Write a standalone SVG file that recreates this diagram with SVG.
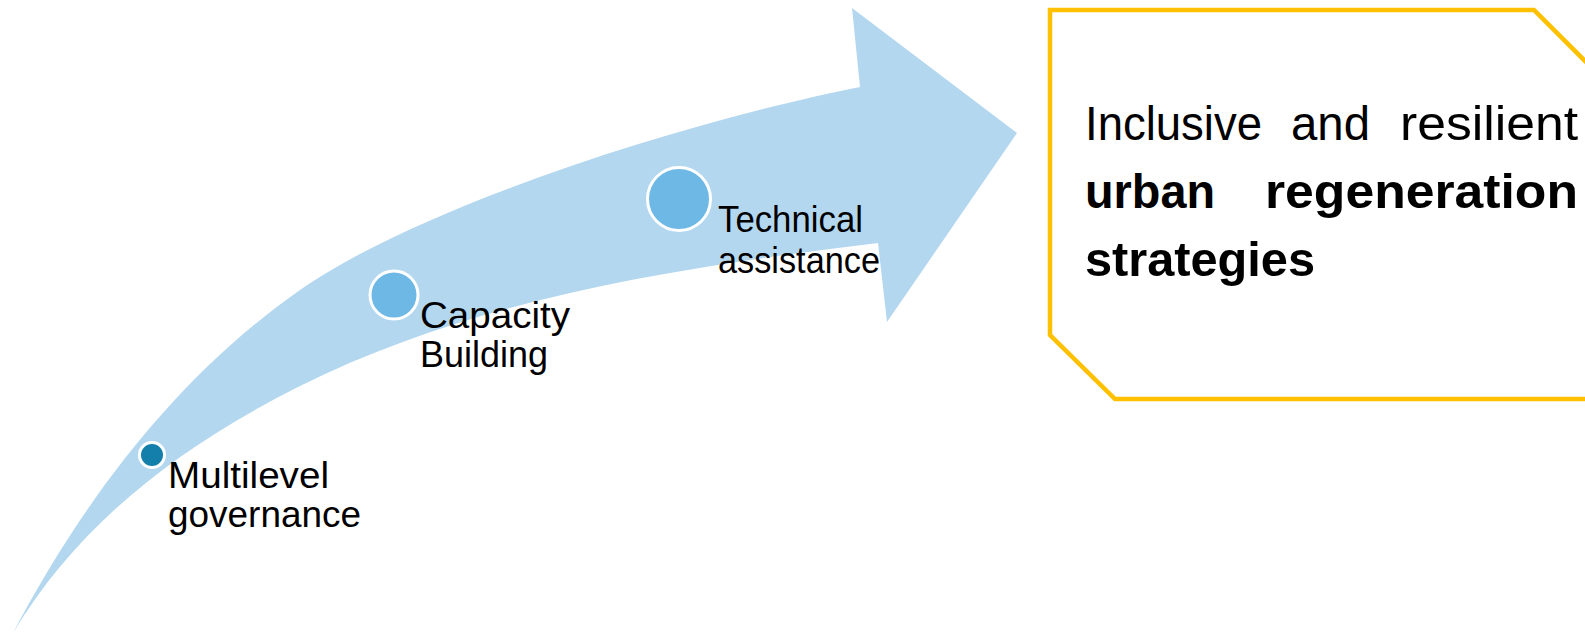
<svg xmlns="http://www.w3.org/2000/svg" width="1585" height="634" viewBox="0 0 1585 634">
<style>
.lbl{font-family:"Liberation Sans",Arial,sans-serif;font-size:36px;fill:#000}
.dot{stroke:#fff;stroke-width:3}
.big{font-family:"Liberation Sans",Arial,sans-serif;font-size:48px;fill:#000}
.bold{font-weight:bold}
</style>
<rect width="1585" height="634" fill="#fff"/>
<g id="connectors">
<path id="arrow" fill="#B4D7F0" d="M13,633 C83,500 177,376 300,290 C423,204 693,120 860,87 L852,8 L1017,133 L887,322 L878,243 C682,267 477,297.5 300,386 C175,449 78,525 13,633 Z"/>
</g>
<g id="node-multilevel">
<circle class="dot" cx="152" cy="455" r="12.5" fill="#137FAA"/>
<text class="lbl" x="168" y="488" textLength="161" lengthAdjust="spacingAndGlyphs">Multilevel</text>
<text class="lbl" x="168" y="527" textLength="193" lengthAdjust="spacingAndGlyphs">governance</text>
</g>
<g id="node-capacity">
<circle class="dot" cx="394" cy="295" r="24" fill="#6EB8E6"/>
<text class="lbl" x="420" y="328" textLength="150" lengthAdjust="spacingAndGlyphs">Capacity</text>
<text class="lbl" x="420" y="367" textLength="128" lengthAdjust="spacingAndGlyphs">Building</text>
</g>
<g id="node-technical">
<circle class="dot" cx="679" cy="199" r="31.5" fill="#6EB8E6"/>
<text class="lbl" x="718" y="232" textLength="145" lengthAdjust="spacingAndGlyphs">Technical</text>
<text class="lbl" x="718" y="273" textLength="162" lengthAdjust="spacingAndGlyphs">assistance</text>
</g>
<g id="node-goal">
<path d="M1596,72 L1534,10 L1050,10 L1050,335 L1115,399 L1590,399" fill="none" stroke="#FFC000" stroke-width="4.5" stroke-linejoin="miter"/>
<text class="big" x="1085" y="140" textLength="177" lengthAdjust="spacingAndGlyphs">Inclusive</text>
<text class="big" x="1291" y="140" textLength="79" lengthAdjust="spacingAndGlyphs">and</text>
<text class="big" x="1400" y="140" textLength="178" lengthAdjust="spacingAndGlyphs">resilient</text>
<text class="big bold" x="1085" y="208" textLength="130" lengthAdjust="spacingAndGlyphs">urban</text>
<text class="big bold" x="1265" y="208" textLength="313" lengthAdjust="spacingAndGlyphs">regeneration</text>
<text class="big bold" x="1085" y="276" textLength="230" lengthAdjust="spacingAndGlyphs">strategies</text>
</g>
</svg>
